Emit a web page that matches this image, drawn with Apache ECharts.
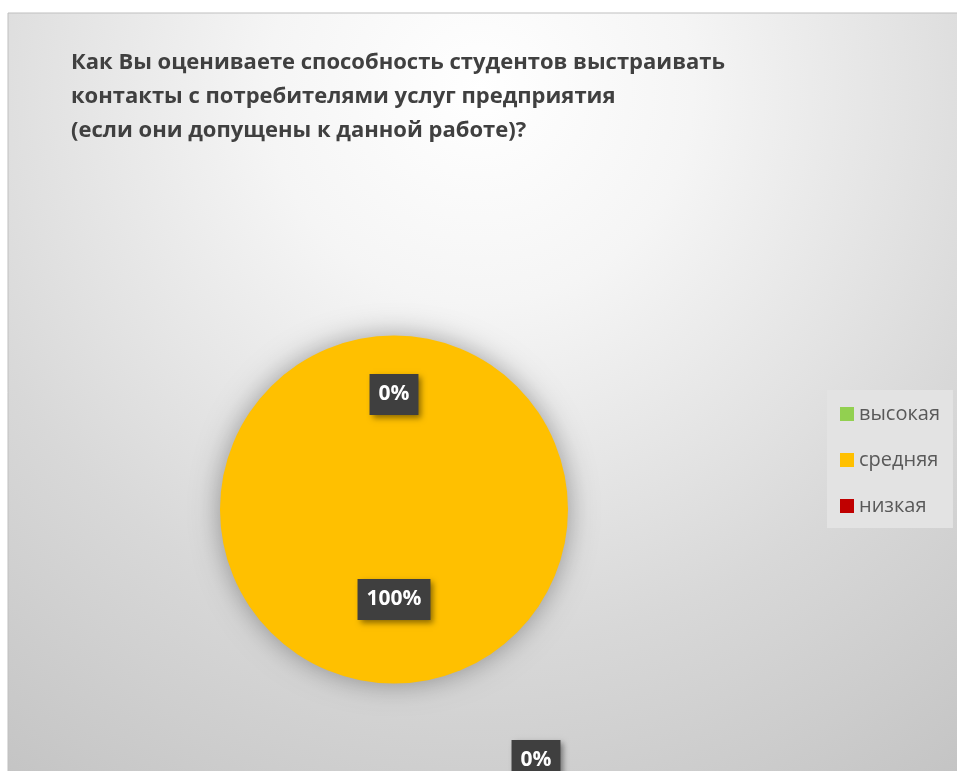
<!DOCTYPE html>
<html>
<head>
<meta charset="utf-8">
<script src="https://cdn.jsdelivr.net/npm/echarts@6/dist/echarts.min.js"></script>
<style>
html,body{margin:0;padding:0;background:#fff;}
#chart{width:957px;height:771px;}
</style>
</head>
<body>
<div id="chart"></div>
<script>
// ---- data ----
const titleText = 'Как Вы оцениваете способность студентов выстраивать\nконтакты с потребителями услуг предприятия\n(если они допущены к данной работе)?';
const categories = ['высокая', 'средняя', 'низкая'];
const values = [0, 100, 0];
const colors = ['#92D050', '#FFC000', '#C00000'];
// label nudges (layout only)
const labelShift = [[0, -25], [0, 0], [142, 341]];

const chart = echarts.init(document.getElementById('chart'), null, {renderer: 'canvas'});

const option = {
  animation: false,
  backgroundColor: '#ffffff',
  graphic: [{
    type: 'rect',
    z: -10,
    silent: true,
    shape: {x: 8, y: 13, width: 960, height: 770},
    style: {
      fill: {
        type: 'radial', x: 480, y: 90, r: 850, global: true,
        colorStops: [
          {offset: 0, color: '#ffffff'},
          {offset: 0.25, color: '#f5f5f5'},
          {offset: 0.5, color: '#e3e3e3'},
          {offset: 0.65, color: '#d8d8d8'},
          {offset: 0.85, color: '#cccccc'},
          {offset: 1, color: '#c3c3c3'}
        ]
      },
      stroke: '#bfbfbf',
      lineWidth: 1
    }
  }],
  title: {
    text: titleText,
    left: 66,
    top: 41,
    textStyle: {
      fontFamily: 'Open Sans',
      fontWeight: 'bold',
      fontSize: 22,
      lineHeight: 34,
      color: '#404040'
    }
  },
  legend: {
    orient: 'vertical',
    left: 827,
    top: 390,
    padding: [14, 13, 12, 13],
    backgroundColor: '#e3e3e3',
    itemWidth: 14,
    itemHeight: 14,
    itemGap: 26,
    icon: 'rect',
    data: categories,
    textStyle: {
      fontFamily: 'Open Sans',
      fontSize: 20,
      color: '#595959'
    }
  },
  series: [{
    type: 'pie',
    center: [394, 509.5],
    radius: 174,
    startAngle: 90,
    clockwise: true,
    minShowLabelAngle: 0,
    avoidLabelOverlap: false,
    stillShowZeroSum: true,
    label: {
      show: true,
      position: 'inside',
      formatter: '{d}%',
      fontFamily: 'Open Sans',
      fontWeight: 'bold',
      fontSize: 21,
      color: '#ffffff',
      backgroundColor: '#3f3f3f',
      padding: [11, 9, 9, 9],
      shadowBlur: 6,
      shadowOffsetX: 3,
      shadowOffsetY: 3,
      shadowColor: 'rgba(0,0,0,0.45)'
    },
    labelLine: {show: false},
    labelLayout: function (p) {
      const s = labelShift[p.dataIndex];
      return {dx: s[0], dy: s[1]};
    },
    emphasis: {disabled: true},
    itemStyle: {
      shadowBlur: 28,
      shadowColor: 'rgba(0,0,0,0.35)'
    },
    data: categories.map((c, i) => ({
      name: c,
      value: values[i],
      itemStyle: {color: colors[i]}
    }))
  }]
};
chart.setOption(option);
</script>
</body>
</html>
